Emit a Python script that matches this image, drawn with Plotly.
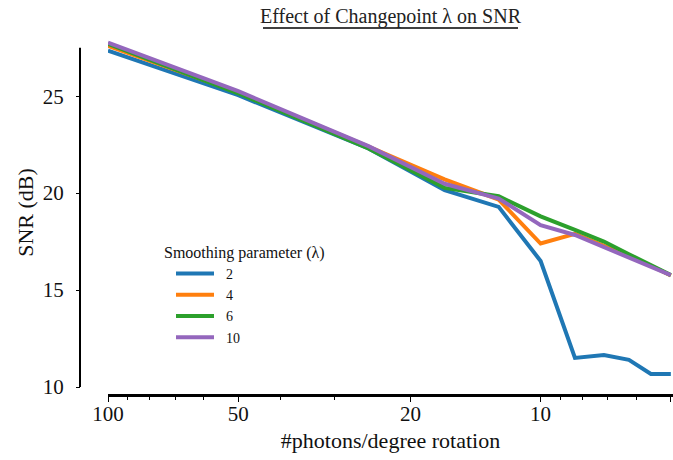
import plotly.graph_objects as go

photons = [100, 50, 25, 16.67, 12.5, 10, 8.33, 7.14, 6.25, 5.56, 5]
lambdas = ["2", "4", "6", "10"]
snr_l2 = [27.35, 25.05, 22.3, 20.15, 19.29, 16.5, 11.5, 11.65, 11.4, 10.67, 10.67]
snr_l4 = [27.6, 25.2, 22.4, 20.71, 19.67, 17.4, 17.9, 17.3, 16.75, 16.25, 15.75]
snr_l6 = [27.7, 25.15, 22.3, 20.27, 19.84, 18.8, 18.1, 17.5, 16.85, 16.3, 15.77]
snr_l10 = [27.76, 25.26, 22.42, 20.48, 19.72, 18.35, 17.84, 17.23, 16.7, 16.2, 15.77]
series = [snr_l2, snr_l4, snr_l6, snr_l10]
colors = ["#1f77b4", "#ff7f0e", "#2ca02c", "#9467bd"]

x_major = [100, 50, 20, 10, 5]
x_minor = [90, 80, 70, 60, 40, 30, 9, 8, 7, 6]
y_ticks = [10, 15, 20, 25]
y_axis_span = [10, 27.5]

FONT = "Liberation Serif, Times New Roman, serif"
W, H = 673, 460
L, R, T, B = 80, 0, 38, 65
PW, PH = W - L - R, H - T - B

def px_x(p):
    return (p - L) / PW

def px_y(p):
    return (H - B - p) / PH

fig = go.Figure()
for lam, ys, c in zip(lambdas, series, colors):
    fig.add_trace(go.Scatter(x=photons, y=ys, mode="lines", name="\u00a0\u00a0" + lam,
                             line=dict(color=c, width=4)))

fig.update_layout(
    width=W, height=H,
    margin=dict(l=L, r=R, t=T, b=B),
    paper_bgcolor="white", plot_bgcolor="white",
    font=dict(family=FONT, size=21, color="black"),
    title=dict(text="Effect of Changepoint λ on SNR", font=dict(family=FONT, size=20, color="#222"),
               xref="paper", x=px_x(390.5), xanchor="center",
               yref="container", y=1 - 16 / H, yanchor="middle"),
    xaxis=dict(type="log", range=[2, 0.694], domain=[px_x(108), 1],
               anchor="free", position=0,
               tickvals=x_major, ticktext=[str(v) for v in x_major],
               ticks="outside", ticklen=5, tickwidth=1, tickcolor="black",
               minor=dict(tickvals=x_minor, ticks="outside", ticklen=3, tickwidth=1,
                          tickcolor="black", showgrid=False),
               showline=True, linecolor="black", linewidth=3,
               showgrid=False, zeroline=False, ticklabelstandoff=-6,
               tickfont=dict(family=FONT, size=21, color="#111"),
               title=dict(text="#photons/degree rotation", font=dict(family=FONT, size=22, color="#111"),
                          standoff=7)),
    yaxis=dict(range=[10, 28.0], domain=[px_y(387), 1],
               anchor="free", position=0,
               tickvals=y_ticks, ticks="outside", ticklen=4, tickwidth=1, tickcolor="black",
               showline=False,
               showgrid=False, zeroline=False, ticklabelstandoff=8,
               tickfont=dict(family=FONT, size=21, color="#111"),
               title=dict(text="SNR (dB)", font=dict(family=FONT, size=22, color="#111"), standoff=2)),
    legend=dict(x=px_x(171), y=px_y(258), xanchor="left", yanchor="top",
                bgcolor="rgba(0,0,0,0)", font=dict(family=FONT, size=14, color="#111"),
                itemwidth=38),
    showlegend=True,
)

fig.add_shape(type="line", xref="paper", yref="y",
              x0=0, x1=0, y0=y_axis_span[0], y1=y_axis_span[1],
              line=dict(color="black", width=2))

fig.add_annotation(text="Smoothing parameter (λ)", xref="paper", yref="paper",
                   x=px_x(162), y=px_y(253), xanchor="left", yanchor="middle",
                   showarrow=False, font=dict(family=FONT, size=16, color="#111"))

fig.add_shape(type="line", xref="paper", yref="paper",
              x0=px_x(263), x1=px_x(518), y0=px_y(28), y1=px_y(28),
              line=dict(color="black", width=1.5))

fig.write_html("out.html")
